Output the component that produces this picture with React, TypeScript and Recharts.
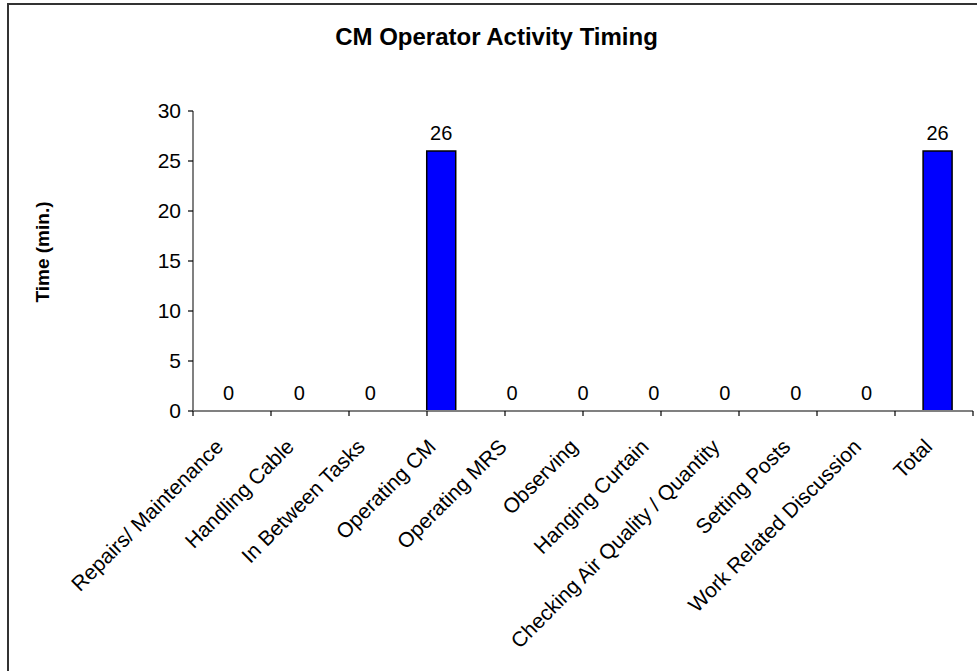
import { Bar, ComposedChart, LabelList, Line, XAxis, YAxis } from "recharts";

const categories = [
  "Repairs/ Maintenance",
  "Handling Cable",
  "In Between Tasks",
  "Operating CM",
  "Operating MRS",
  "Observing",
  "Hanging Curtain",
  "Checking Air Quality / Quantity",
  "Setting Posts",
  "Work Related Discussion",
  "Total",
];
const minutes = [0, 0, 0, 26, 0, 0, 0, 0, 0, 0, 26];
const yTicks = [0, 5, 10, 15, 20, 25, 30];
const boundaryTicks = [0, 1, 2, 3, 4, 5, 6, 7, 8, 9, 10, 11];

const data = categories.map((name, i) => ({ name, minutes: minutes[i] }));

const FONT = '"Liberation Sans", Arial, sans-serif';

function CategoryTick({ x, y, payload }: any) {
  const ax = x - 4;
  const ay = y + 36;
  return (
    <text
      x={ax}
      y={ay}
      transform={`rotate(-45, ${ax}, ${ay})`}
      textAnchor="end"
      fontSize={21}
      fontFamily={FONT}
      fill="#000"
    >
      {payload.value}
    </text>
  );
}

// boundary axis shows only tick marks
const NoLabel = () => <g />;

export default function App() {
  return (
    <div
      style={{
        position: "absolute",
        left: 0,
        top: 0,
        width: 977,
        height: 671,
        overflow: "hidden",
        background: "#fff",
        fontFamily: FONT,
      }}
    >
      <div
        style={{
          position: "absolute",
          left: 7,
          top: 3,
          width: 1100,
          height: 800,
          border: "2px solid #333",
        }}
      />
      <div
        style={{
          position: "absolute",
          left: 0,
          width: 977,
          top: 22,
          textAlign: "center",
          fontWeight: "bold",
          fontSize: 24,
          lineHeight: "30px",
          paddingLeft: 16,
          boxSizing: "border-box",
        }}
      >
        CM Operator Activity Timing
      </div>
      <div
        style={{
          position: "absolute",
          left: 43,
          top: 252,
          transform: "translate(-50%, -50%) rotate(-90deg)",
          whiteSpace: "nowrap",
          fontWeight: "bold",
          fontSize: 19,
        }}
      >
        Time (min.)
      </div>
      <div style={{ position: "absolute", left: 0, top: 0 }}>
        <ComposedChart
          width={977}
          height={671}
          data={data}
          margin={{ top: 111, right: 4, left: 0, bottom: 60 }}
          barSize={29}
        >
          <XAxis
            xAxisId="bounds"
            type="number"
            domain={[0, 11]}
            ticks={boundaryTicks}
            interval={0}
            allowDataOverflow
            height={1}
            tick={<NoLabel />}
            tickSize={5}
            tickLine={{ stroke: "#000", strokeWidth: 1.2 }}
            axisLine={{ stroke: "#808080", strokeWidth: 2 }}
          />
          <XAxis
            xAxisId="cat"
            dataKey="name"
            interval={0}
            height={199}
            tickSize={0}
            tickMargin={0}
            tickLine={false}
            axisLine={false}
            tick={<CategoryTick />}
          />
          <YAxis
            width={193}
            domain={[0, 30]}
            ticks={yTicks}
            interval={0}
            tickSize={5}
            tickMargin={7}
            tick={{ fontSize: 21, fill: "#000", fontFamily: FONT }}
            tickLine={{ stroke: "#000", strokeWidth: 1.2 }}
            axisLine={{ stroke: "#808080", strokeWidth: 2 }}
          />
          <Bar
            xAxisId="cat"
            dataKey="minutes"
            fill="#0000ff"
            stroke="#000"
            strokeWidth={1.5}
            isAnimationActive={false}
          />
          <Line
            xAxisId="cat"
            dataKey="minutes"
            stroke="none"
            dot={false}
            activeDot={false}
            isAnimationActive={false}
          >
            <LabelList
              dataKey="minutes"
              position="top"
              offset={11}
              fontSize={20}
              fill="#000"
              fontFamily={FONT}
            />
          </Line>
        </ComposedChart>
      </div>
    </div>
  );
}
